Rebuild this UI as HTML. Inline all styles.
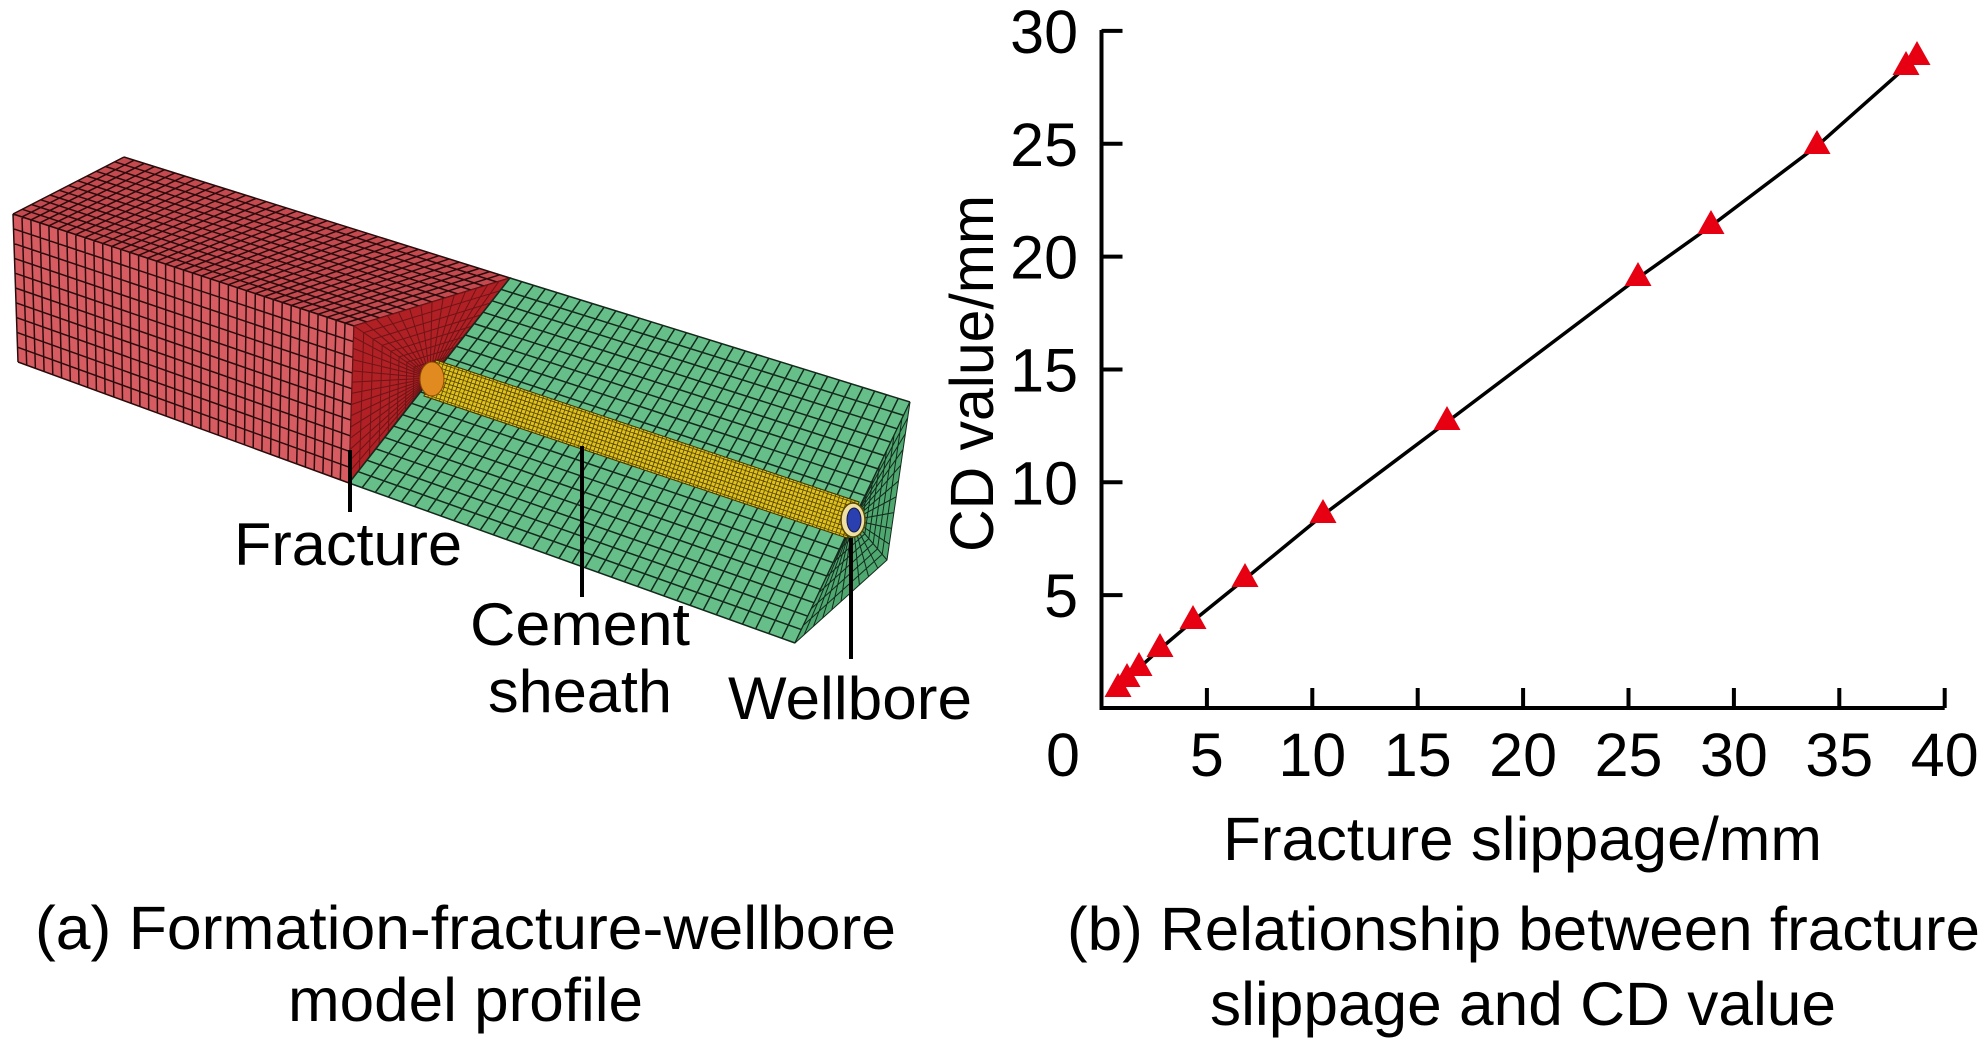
<!DOCTYPE html>
<html><head><meta charset="utf-8">
<style>
html,body{margin:0;padding:0;background:#fff;}
svg{display:block;}
text{font-family:"Liberation Sans",Arial,sans-serif;fill:#000;}
</style></head>
<body>
<svg id="s" width="1984" height="1047" viewBox="0 0 1984 1047" xmlns="http://www.w3.org/2000/svg">
<rect width="1984" height="1047" fill="#fff"/>
<g id="model"></g>
<g stroke="#000" stroke-width="4">
<line x1="350" y1="450" x2="350" y2="512"/>
<line x1="582" y1="446" x2="582" y2="597"/>
<line x1="851" y1="538" x2="851" y2="659"/>
</g>
<text x="348" y="565" font-size="60" text-anchor="middle" textLength="228" lengthAdjust="spacingAndGlyphs">Fracture</text>
<text x="580" y="645" font-size="60" text-anchor="middle" textLength="220" lengthAdjust="spacingAndGlyphs">Cement</text>
<text x="580" y="712" font-size="60" text-anchor="middle" textLength="184" lengthAdjust="spacingAndGlyphs">sheath</text>
<text x="850" y="719" font-size="60" text-anchor="middle" textLength="244" lengthAdjust="spacingAndGlyphs">Wellbore</text>
<text x="35" y="949" font-size="61" textLength="861" lengthAdjust="spacingAndGlyphs">(a) Formation-fracture-wellbore</text>
<text x="288" y="1021" font-size="61" textLength="355" lengthAdjust="spacingAndGlyphs">model profile</text>

<g id="chart"></g>
<text x="1223" y="860" font-size="61" textLength="599" lengthAdjust="spacingAndGlyphs">Fracture slippage/mm</text>
<text transform="translate(993,552) rotate(-90)" x="0" y="0" font-size="61" textLength="357" lengthAdjust="spacingAndGlyphs">CD value/mm</text>
<text x="1067" y="950" font-size="61" textLength="913" lengthAdjust="spacingAndGlyphs">(b) Relationship between fracture</text>
<text x="1210" y="1025" font-size="61" textLength="626" lengthAdjust="spacingAndGlyphs">slippage and CD value</text>
</svg>
<script>
(function(){
var NS="http://www.w3.org/2000/svg";
var M=document.getElementById("model");
function el(p,tag,a){var e=document.createElementNS(NS,tag);for(var k in a)e.setAttribute(k,a[k]);p.appendChild(e);return e;}
function poly(pts,fill,stroke,sw){return el(M,"polygon",{points:pts.map(function(p){return p[0]+","+p[1]}).join(" "),fill:fill,stroke:stroke||"none","stroke-width":sw||0});}
function lerp(a,b,t){return [a[0]+(b[0]-a[0])*t,a[1]+(b[1]-a[1])*t];}
function grid(p00,p10,p11,p01,nu,nv,col,sw){
 var d="";
 for(var i=0;i<=nu;i++){var t=i/nu;var a=lerp(p00,p10,t),b=lerp(p01,p11,t);d+="M"+a[0].toFixed(1)+" "+a[1].toFixed(1)+"L"+b[0].toFixed(1)+" "+b[1].toFixed(1);}
 for(var j=0;j<=nv;j++){var t=j/nv;var a=lerp(p00,p01,t),b=lerp(p10,p11,t);d+="M"+a[0].toFixed(1)+" "+a[1].toFixed(1)+"L"+b[0].toFixed(1)+" "+b[1].toFixed(1);}
 el(M,"path",{d:d,stroke:col,"stroke-width":sw,fill:"none"});
}
function radial(c,verts,nr,nring,col,sw){
 var d="";
 for(var e=0;e<verts.length;e++){var a=verts[e],b=verts[(e+1)%verts.length];
  for(var i=0;i<nr;i++){var p=lerp(a,b,i/nr);d+="M"+c[0]+" "+c[1]+"L"+p[0].toFixed(1)+" "+p[1].toFixed(1);}}
 for(var k=1;k<=nring;k++){var s=Math.pow(k/nring,1.3);
  d+="M";verts.forEach(function(v,i){var p=lerp(c,v,s);d+=(i?"L":"")+p[0].toFixed(1)+" "+p[1].toFixed(1);});d+="Z";}
 el(M,"path",{d:d,stroke:col,"stroke-width":sw,fill:"none"});
}
var TL=[13,214],TB=[124,157],TR=[510,278],FR=[354,326],BL=[18,362],BR=[349,483];
poly([TL,TB,TR,FR],"#c44a50");
grid(TL,FR,TR,TB,38,12,"#2a0c0c",1.5);
poly([TL,FR,BR,BL],"#d65c62");
grid(TL,FR,BR,BL,38,10,"#2a0c0c",1.5);
poly([FR,TR,BR],"#b02024");
radial([430,378],[FR,TR,BR],14,10,"#6e1416",1);
var A=[349,483],B=[510,278],C=[910,402],D=[795,643];
poly([A,B,C,D],"#66be88");
grid(B,C,D,A,34,18,"#142a1c",1.5);
var E=[887,560];
poly([C,E,D],"#4ea870");
radial([853,520],[C,E,D],10,9,"#142a1c",1);
var c0=[430,378],c1=[853,520],r=19;
var dx=c1[0]-c0[0],dy=c1[1]-c0[1],L=Math.sqrt(dx*dx+dy*dy),nx=-dy/L*r,ny=dx/L*r;
poly([[c0[0]+nx,c0[1]+ny],[c1[0]+nx,c1[1]+ny],[c1[0]-nx,c1[1]-ny],[c0[0]-nx,c0[1]-ny]],"#e0c21e","#3a3000",1);
var d="";for(var i=0;i<=110;i++){var p=lerp(c0,c1,i/110);d+="M"+(p[0]+nx).toFixed(1)+" "+(p[1]+ny).toFixed(1)+"L"+(p[0]-nx).toFixed(1)+" "+(p[1]-ny).toFixed(1);}
for(var j=-4;j<=4;j++){var f=j/4.5;d+="M"+(c0[0]+nx*f).toFixed(1)+" "+(c0[1]+ny*f).toFixed(1)+"L"+(c1[0]+nx*f).toFixed(1)+" "+(c1[1]+ny*f).toFixed(1);}
el(M,"path",{d:d,stroke:"#5a4800","stroke-width":0.9,fill:"none"});
el(M,"ellipse",{cx:432,cy:379,rx:12,ry:17,fill:"#e08a20",stroke:"#8a4a00","stroke-width":1});
el(M,"ellipse",{cx:853,cy:520,rx:12,ry:17,fill:"#f0e0a0",stroke:"#5a4800","stroke-width":1.5});
el(M,"ellipse",{cx:854,cy:520,rx:7,ry:12,fill:"#2a40b0",stroke:"#101850","stroke-width":1});

var G=document.getElementById("chart");
function ce(tag,a,txt){var e=document.createElementNS(NS,tag);for(var k in a)e.setAttribute(k,a[k]);if(txt)e.textContent=txt;G.appendChild(e);return e;}
var x0=1101.5,px=21.08,y0=708,py=22.57;
ce("path",{d:"M"+x0+" 30L"+x0+" "+y0+"L"+(x0+40*px)+" "+y0,stroke:"#000","stroke-width":4,fill:"none","stroke-linejoin":"miter"});
for(var v=5;v<=40;v+=5){var X=x0+v*px;ce("line",{x1:X,y1:y0,x2:X,y2:y0-20,stroke:"#000","stroke-width":4});
 ce("text",{x:X,y:776,"font-size":61,"text-anchor":"middle"},String(v));}
ce("text",{x:1063,y:776,"font-size":61,"text-anchor":"middle"},"0");
for(var v=5;v<=30;v+=5){var Y=y0-v*py;ce("line",{x1:x0,y1:Y,x2:x0+21,y2:Y,stroke:"#000","stroke-width":4});
 ce("text",{x:1078,y:Y+22,"font-size":61,"text-anchor":"end"},String(v));}
var pts=[[1118,689],[1127,679],[1139,668],[1160,649],[1193,621],[1245,579],[1323,515],[1447,422],[1638,278],[1711,226],[1817,146],[1906,67],[1917,57]];
ce("polyline",{points:pts.map(function(p){return p.join(",")}).join(" "),fill:"none",stroke:"#000","stroke-width":3.5});
pts.forEach(function(p){ce("polygon",{points:(p[0])+","+(p[1]-16)+" "+(p[0]-13.5)+","+(p[1]+8)+" "+(p[0]+13.5)+","+(p[1]+8),fill:"#e60012"});});
})();
</script>
</body></html>
